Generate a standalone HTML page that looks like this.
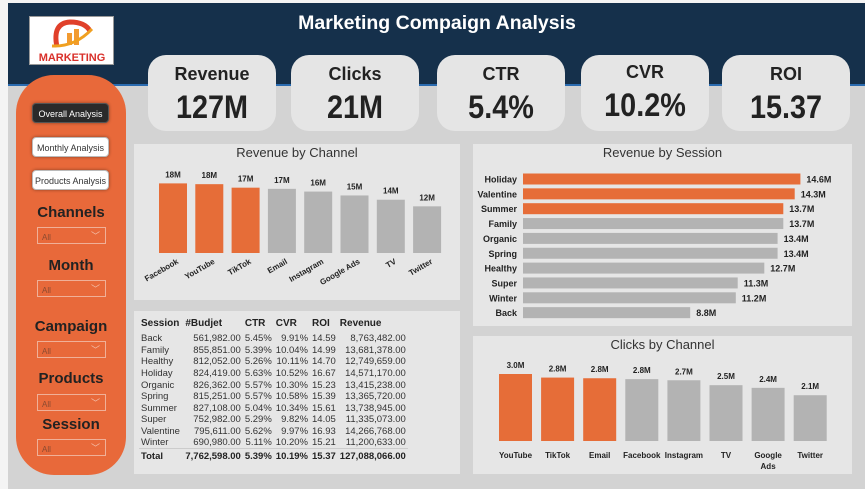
<!DOCTYPE html>
<html><head><meta charset="utf-8"><style>
*{margin:0;padding:0;box-sizing:border-box}
body{width:865px;height:489px;overflow:hidden;background:#f4f4f4;font-family:"Liberation Sans",sans-serif;position:relative}
.abs{position:absolute}
#bg{left:8px;top:3px;width:857px;height:486px;background:#d3d3d3}
#header{left:8px;top:3px;width:857px;height:83px;background:#15304b;border-bottom:2px solid #2a6bb0}
#title{left:200px;top:12px;width:474px;text-align:center;color:#fff;font-weight:bold;font-size:19.5px}
#logo{left:29px;top:16px;width:85px;height:49px;background:#fff;border:1px solid #999}
.card{background:#e5e5e5;border-radius:18px;text-align:center;color:#222}
.card .t{font-weight:bold;font-size:18px;margin-top:9px}
.card .v{font-weight:bold;font-size:32px;margin-top:4px;transform:scaleX(0.9)}
#side{left:16px;top:75px;width:110px;height:400px;background:#e8693a;border-radius:38px}
.btn{left:32px;width:77px;height:20px;border-radius:4px;font-size:9px;text-align:center;line-height:20px;background:#fff;color:#333;border:1px solid #bbb;box-shadow:0 0 3px rgba(0,0,0,.4)}
.lab{left:16px;width:110px;text-align:center;font-weight:bold;font-size:15px;color:#222}
.dd{left:37px;width:69px;height:17px;border:1px solid #f0b098;font-size:8px;color:#8a4a30;padding:5px 0 0 4px}
.dd span{position:absolute;right:5px;top:1px;font-size:9px;color:#f3c0ac}
.panel{background:#e6e6e6}
.ptitle{font-size:13px;color:#333;text-align:center}
table{border-collapse:collapse;font-size:9.5px;color:#333}
td,th{padding:0 2px;height:11.6px;white-space:nowrap}
th{font-weight:bold;font-size:10px;color:#222;height:20px;text-align:left;padding:0 4px 0 2px}
td.r{text-align:right}
tr.tot td{font-weight:bold;color:#222;border-top:1px solid #ccc;height:14px}
</style></head><body>
<div id="bg" class="abs"></div>
<div id="header" class="abs"></div>
<div id="title" class="abs">Marketing Compaign Analysis</div>
<div id="logo" class="abs">
<svg width="85" height="49"><path d="M27 30 Q22 6 40 5 Q55 5 60 14" stroke="#e0402a" stroke-width="5" fill="none"/><rect x="37" y="16" width="5" height="12" fill="#f29a30"/><rect x="44" y="12" width="5" height="16" fill="#f29a30"/><path d="M22 29 Q45 30 62 12" stroke="#f0a020" stroke-width="3" fill="none"/><text x="42" y="44" text-anchor="middle" font-size="11" font-weight="bold" fill="#d9302a" font-family="Liberation Sans">MARKETING</text></svg></div>

<div class="abs card" style="left:148px;top:55px;width:128px;height:76px"><div class="t">Revenue</div><div class="v">127M</div></div>
<div class="abs card" style="left:291px;top:55px;width:128px;height:76px"><div class="t">Clicks</div><div class="v">21M</div></div>
<div class="abs card" style="left:437px;top:55px;width:128px;height:76px"><div class="t">CTR</div><div class="v">5.4%</div></div>
<div class="abs card" style="left:581px;top:55px;width:128px;height:76px"><div class="t" style="margin-top:7px">CVR</div><div class="v">10.2%</div></div>
<div class="abs card" style="left:722px;top:55px;width:128px;height:76px"><div class="t">ROI</div><div class="v">15.37</div></div>

<div id="side" class="abs"></div>
<div class="abs btn" style="top:103px;background:#2a2a2a;color:#fff;border-color:#555">Overall Analysis</div>
<div class="abs btn" style="top:137px">Monthly Analysis</div>
<div class="abs btn" style="top:170px">Products Analysis</div>
<div class="abs lab" style="top:204px">Channels</div>
<div class="abs dd" style="top:227px">All<span>﹀</span></div>
<div class="abs lab" style="top:257px">Month</div>
<div class="abs dd" style="top:280px">All<span>﹀</span></div>
<div class="abs lab" style="top:318px">Campaign</div>
<div class="abs dd" style="top:341px">All<span>﹀</span></div>
<div class="abs lab" style="top:370px">Products</div>
<div class="abs dd" style="top:394px">All<span>﹀</span></div>
<div class="abs lab" style="top:416px">Session</div>
<div class="abs dd" style="top:439px">All<span>﹀</span></div>

<div class="abs panel" style="left:134px;top:144px;width:326px;height:156px"><div class="ptitle" style="margin-top:1px">Revenue by Channel</div></div>
<svg id="rc" class="abs" style="left:0;top:0" width="865" height="489"></svg>

<div class="abs panel" style="left:134px;top:311px;width:326px;height:163px">
<table style="position:absolute;left:5px;top:2px">
<tr><th>Session</th><th>#Budjet</th><th>CTR</th><th>CVR</th><th>ROI</th><th>Revenue</th></tr>
<tr><td>Back</td><td class="r">561,982.00</td><td class="r">5.45%</td><td class="r">9.91%</td><td class="r">14.59</td><td class="r">8,763,482.00</td></tr>
<tr><td>Family</td><td class="r">855,851.00</td><td class="r">5.39%</td><td class="r">10.04%</td><td class="r">14.99</td><td class="r">13,681,378.00</td></tr>
<tr><td>Healthy</td><td class="r">812,052.00</td><td class="r">5.26%</td><td class="r">10.11%</td><td class="r">14.70</td><td class="r">12,749,659.00</td></tr>
<tr><td>Holiday</td><td class="r">824,419.00</td><td class="r">5.63%</td><td class="r">10.52%</td><td class="r">16.67</td><td class="r">14,571,170.00</td></tr>
<tr><td>Organic</td><td class="r">826,362.00</td><td class="r">5.57%</td><td class="r">10.30%</td><td class="r">15.23</td><td class="r">13,415,238.00</td></tr>
<tr><td>Spring</td><td class="r">815,251.00</td><td class="r">5.57%</td><td class="r">10.58%</td><td class="r">15.39</td><td class="r">13,365,720.00</td></tr>
<tr><td>Summer</td><td class="r">827,108.00</td><td class="r">5.04%</td><td class="r">10.34%</td><td class="r">15.61</td><td class="r">13,738,945.00</td></tr>
<tr><td>Super</td><td class="r">752,982.00</td><td class="r">5.29%</td><td class="r">9.82%</td><td class="r">14.05</td><td class="r">11,335,073.00</td></tr>
<tr><td>Valentine</td><td class="r">795,611.00</td><td class="r">5.62%</td><td class="r">9.97%</td><td class="r">16.93</td><td class="r">14,266,768.00</td></tr>
<tr><td>Winter</td><td class="r">690,980.00</td><td class="r">5.11%</td><td class="r">10.20%</td><td class="r">15.21</td><td class="r">11,200,633.00</td></tr>
<tr class="tot"><td>Total</td><td class="r">7,762,598.00</td><td class="r">5.39%</td><td class="r">10.19%</td><td class="r">15.37</td><td class="r">127,088,066.00</td></tr>
</table></div>

<div class="abs panel" style="left:473px;top:144px;width:379px;height:182px"><div class="ptitle" style="margin-top:1px">Revenue by Session</div></div>
<div class="abs panel" style="left:473px;top:336px;width:379px;height:138px"><div class="ptitle" style="margin-top:1px">Clicks by Channel</div></div>
<svg id="rs" class="abs" style="left:0;top:0" width="865" height="489"></svg>
<svg id="cc" class="abs" style="left:0;top:0" width="865" height="489"></svg>

<script>
const revChannels=["Facebook","YouTube","TikTok","Email","Instagram","Google Ads","TV","Twitter"];
const revValues=[17.9,17.7,16.8,16.5,15.8,14.8,13.7,12.0];
const revLabels=["18M","18M","17M","17M","16M","15M","14M","12M"];
const sessNames=["Holiday","Valentine","Summer","Family","Organic","Spring","Healthy","Super","Winter","Back"];
const sessValues=[14.6,14.3,13.7,13.7,13.4,13.4,12.7,11.3,11.2,8.8];
const clickChannels=["YouTube","TikTok","Email","Facebook","Instagram","TV","Google Ads","Twitter"];
const clickValues=[3.0,2.84,2.81,2.77,2.72,2.5,2.38,2.05];
const clickLabels=["3.0M","2.8M","2.8M","2.8M","2.7M","2.5M","2.4M","2.1M"];
const ORANGE="#e66d38",GRAY="#b3b3b3",NS="http://www.w3.org/2000/svg";
function mk(svg,tag,attrs,text){const e=document.createElementNS(NS,tag);for(const k in attrs)e.setAttribute(k,attrs[k]);if(text!==undefined)e.textContent=text;svg.appendChild(e);return e;}
(function(){const svg=document.getElementById('rc');const base=253,x0=159,step=36.3,bw=28;const y=v=>base-v*(70/18);
revValues.forEach((v,i)=>{const x=x0+i*step;
const b=mk(svg,'rect',{x:x,y:y(v),width:bw,height:base-y(v),fill:i<3?ORANGE:GRAY});


const t=mk(svg,'text',{x:x+bw/2,y:y(v)-6,'text-anchor':'middle','font-size':8,'font-weight':'bold',fill:'#222'},revLabels[i]);


const l=mk(svg,'text',{x:x+bw/2+6,y:base+10,'text-anchor':'end','font-size':8,'font-weight':'bold',fill:'#222',transform:`rotate(-30 ${x+bw/2+6} ${base+10})`},revChannels[i]);

});})();
(function(){const svg=document.getElementById('rs');const x0=523,sc=19.0,y0=179,step=14.85,bh=11;
sessNames.forEach((n,i)=>{const yc=y0+i*step,v=sessValues[i],w=v*sc;
const b=mk(svg,'rect',{x:x0,y:yc-bh/2,width:w,height:bh,fill:i<3?ORANGE:GRAY});


const l=mk(svg,'text',{x:x0-6,y:yc+3.5,'text-anchor':'end','font-size':9,'font-weight':'bold',fill:'#222'},n);


const t=mk(svg,'text',{x:x0+w+6,y:yc+3.5,'font-size':9,'font-weight':'bold',fill:'#222'},v.toFixed(1)+'M');

});})();
(function(){const svg=document.getElementById('cc');const base=441,x0=499,step=42.1,bw=33;const y=v=>base-v*(67/3);
clickValues.forEach((v,i)=>{const x=x0+i*step;
const b=mk(svg,'rect',{x:x,y:y(v),width:bw,height:base-y(v),fill:i<3?ORANGE:GRAY});


const t=mk(svg,'text',{x:x+bw/2,y:y(v)-6,'text-anchor':'middle','font-size':8,'font-weight':'bold',fill:'#222'},clickLabels[i]);


const parts=clickChannels[i]==="Google Ads"?["Google","Ads"]:[clickChannels[i]];
parts.forEach((p,j)=>{const l=mk(svg,'text',{x:x+bw/2,y:base+17+j*11,'text-anchor':'middle','font-size':8,'font-weight':'bold',fill:'#222'},p);

});});})();
</script>
</body></html>
